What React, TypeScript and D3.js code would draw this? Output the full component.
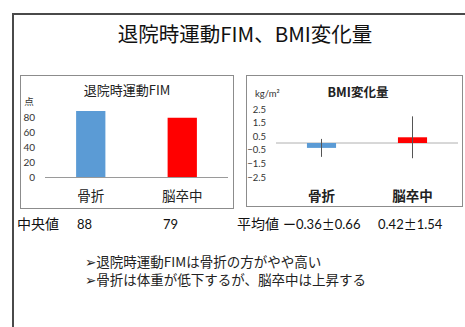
import React from "react";
import * as d3 from "d3";

// Discharge motor FIM (median) and BMI change (mean ± SD) by diagnosis
const categories = ["骨折", "脳卒中"];
const fimMedian = [88, 79];
const fimTicks = [0, 20, 40, 60, 80];
const bmiMean = [-0.36, 0.42];
const bmiSd = [0.66, 1.54];
const bmiTicks = [2.5, 1.5, 0.5, -0.5, -1.5, -2.5];
const barColors = ["#5B9BD5", "#FF0000"];
const notes = [
  "➢退院時運動FIMは骨折の方がやや高い",
  "➢骨折は体重が低下するが、脳卒中は上昇する",
];

const JP = "'Noto Sans CJK JP', 'DejaVu Sans', sans-serif";
const NUM = "Lato, 'Noto Sans CJK JP', sans-serif";

export default function App() {
  const W = 465;
  const H = 327;

  // left panel: discharge motor FIM
  const xFim = d3.scaleBand<string>().domain(categories).range([45, 228]);
  const yFim = d3.scaleLinear().domain([0, 80]).range([177, 117]);
  const fimBarW = xFim.bandwidth() * 0.32;

  // right panel: BMI change
  const xBmi = d3.scaleBand<string>().domain(categories).range([276, 458]);
  const yBmi = d3.scaleLinear().domain([-2.5, 2.5]).range([177, 109]);
  const bmiBarW = xBmi.bandwidth() * 0.32;

  const fmt = d3.format(".1f");

  // "mean±sd" with a full-width ± sign
  const meanSd = (i: number) => (
    <>
      {bmiMean[i] < 0 ? <tspan fontFamily={JP}>ー</tspan> : null}
      {Math.abs(bmiMean[i]).toFixed(2)}
      <tspan fontFamily={JP}>±</tspan>
      {bmiSd[i].toFixed(2)}
    </>
  );

  return (
    <svg
      width={W}
      height={H}
      viewBox={`0 0 ${W} ${H}`}
      style={{ position: "absolute", left: 0, top: 0, background: "#fff" }}
    >
      <rect x={0} y={0} width={W} height={H} fill="#fff" />
      {/* slide frame */}
      <path d={`M13,${H + 2} V14 H${W + 2}`} fill="none" stroke="#4a4a4a" strokeWidth={2} />

      <text x={245} y={42} textAnchor="middle" fontFamily={JP} fontSize={20.5} fill="#111">
        退院時運動FIM、BMI変化量
      </text>

      {/* ---- FIM chart ---- */}
      <rect x={20.5} y={75.5} width={213} height={133} fill="#fff" stroke="#8c8c8c" strokeWidth={1} />
      <text x={127} y={95} textAnchor="middle" fontFamily={JP} fontSize={13} fill="#222">
        退院時運動FIM
      </text>
      <text x={29} y={105} textAnchor="middle" fontFamily={JP} fontSize={9.5} fill="#333">
        点
      </text>
      {fimTicks.map((t) => (
        <text key={t} x={35} y={yFim(t) + 3.5} textAnchor="end" fontFamily={NUM} fontSize={10} fill="#333">
          {t}
        </text>
      ))}
      {categories.map((c, i) => (
        <rect
          key={c}
          x={(xFim(c) as number) + xFim.bandwidth() / 2 - fimBarW / 2}
          y={yFim(fimMedian[i])}
          width={fimBarW}
          height={yFim(0) - yFim(fimMedian[i])}
          fill={barColors[i]}
        />
      ))}
      <line x1={45} x2={228} y1={yFim(0) + 0.5} y2={yFim(0) + 0.5} stroke="#9a9a9a" strokeWidth={1} />
      {categories.map((c) => (
        <text
          key={c}
          x={(xFim(c) as number) + xFim.bandwidth() / 2}
          y={201}
          textAnchor="middle"
          fontFamily={JP}
          fontSize={13.5}
          fill="#222"
        >
          {c}
        </text>
      ))}

      {/* ---- BMI chart ---- */}
      <rect x={246.5} y={75.5} width={216} height={131} fill="#fff" stroke="#8c8c8c" strokeWidth={1} />
      <text x={358} y={97} textAnchor="middle" fontFamily={JP} fontSize={12.5} fontWeight={700} fill="#222">
        BMI変化量
      </text>
      <text x={255} y={97} fontFamily={NUM} fontSize={9.5} fill="#333">
        kg/m²
      </text>
      {bmiTicks.map((t) => (
        <text key={t} x={266} y={yBmi(t) + 3.5} textAnchor="end" fontFamily={NUM} fontSize={9.5} fill="#333">
          {fmt(t)}
        </text>
      ))}
      <line x1={276} x2={458} y1={yBmi(0)} y2={yBmi(0)} stroke="#b0b0b0" strokeWidth={1} />
      {categories.map((c, i) => {
        const cx = (xBmi(c) as number) + xBmi.bandwidth() / 2;
        const v = bmiMean[i];
        return (
          <g key={c}>
            <rect
              x={cx - bmiBarW / 2}
              y={Math.min(yBmi(v), yBmi(0))}
              width={bmiBarW}
              height={Math.abs(yBmi(v) - yBmi(0))}
              fill={barColors[i]}
            />
            <line
              x1={cx}
              x2={cx}
              y1={yBmi(v + bmiSd[i])}
              y2={yBmi(v - bmiSd[i])}
              stroke="#555"
              strokeWidth={1}
            />
          </g>
        );
      })}
      {categories.map((c) => (
        <text
          key={c}
          x={(xBmi(c) as number) + xBmi.bandwidth() / 2}
          y={201}
          textAnchor="middle"
          fontFamily={JP}
          fontSize={13.5}
          fontWeight={700}
          fill="#222"
        >
          {c}
        </text>
      ))}

      {/* ---- summary row ---- */}
      <text x={17} y={229} fontFamily={JP} fontSize={14} fill="#111">中央値</text>
      <text x={77} y={229} fontFamily={NUM} fontSize={13} fill="#111">{fimMedian[0]}</text>
      <text x={163} y={229} fontFamily={NUM} fontSize={13} fill="#111">{fimMedian[1]}</text>
      <text x={237} y={229} fontFamily={JP} fontSize={14} fill="#111">平均値</text>
      <text x={283} y={229} fontFamily={NUM} fontSize={13} fill="#111">{meanSd(0)}</text>
      <text x={378} y={229} fontFamily={NUM} fontSize={13} fill="#111">{meanSd(1)}</text>

      {/* ---- notes ---- */}
      {notes.map((n, i) => (
        <text key={i} x={85} y={267 + i * 18} fontFamily={JP} fontSize={13.5} fill="#222">
          {n}
        </text>
      ))}
    </svg>
  );
}
